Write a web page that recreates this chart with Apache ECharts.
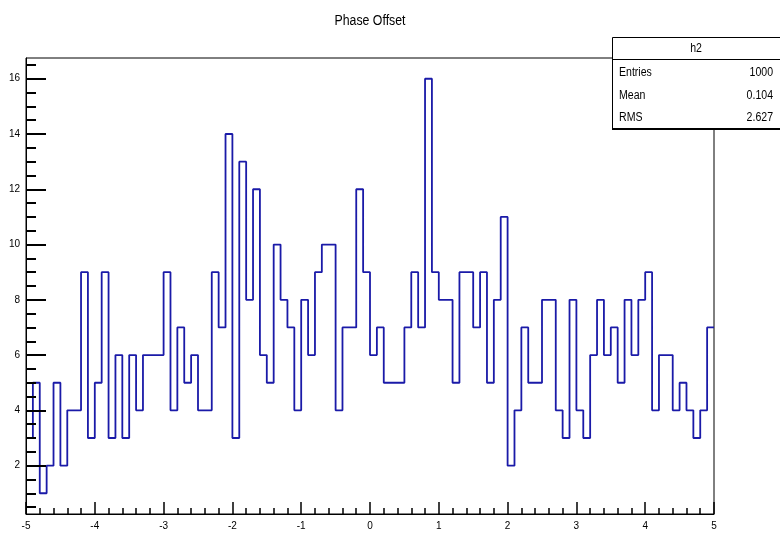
<!DOCTYPE html>
<html>
<head>
<meta charset="utf-8">
<script src="https://cdn.jsdelivr.net/npm/echarts@6/dist/echarts.min.js"></script>
<style>
  html, body { margin: 0; padding: 0; background: #ffffff; }
  #chart { width: 780px; height: 533px; }
</style>
</head>
<body>
<div id="chart"></div>
<script>
// Histogram definition: 100 bins of width 0.1 from -5 to 5
const histTitle = 'Phase Offset';
const histName = 'h2';
const binLow = -5;
const binWidth = 0.1;
const counts = [
  3, 5, 1, 2, 5, 2, 4, 4, 9, 3,
  5, 9, 3, 6, 3, 6, 4, 6, 6, 6,
  9, 4, 7, 5, 6, 4, 4, 9, 7, 14,
  3, 13, 8, 12, 6, 5, 10, 8, 7, 4,
  8, 6, 9, 10, 10, 4, 7, 7, 12, 9,
  6, 7, 5, 5, 5, 7, 9, 7, 16, 9,
  8, 8, 5, 9, 9, 7, 9, 5, 8, 11,
  2, 4, 7, 5, 5, 8, 8, 4, 3, 8,
  4, 3, 6, 8, 6, 7, 5, 8, 6, 8,
  9, 4, 6, 6, 4, 5, 4, 3, 4, 7
];

// Axis ticks
const xRange = [-5, 5];
const yRange = [0.25, 16.75];
const yMajorTicks = [2, 4, 6, 8, 10, 12, 14, 16];
const yMinorTicks = [0.5, 1, 1.5, 2.5, 3, 3.5, 4.5, 5, 5.5, 6.5, 7, 7.5, 8.5, 9, 9.5,
  10.5, 11, 11.5, 12.5, 13, 13.5, 14.5, 15, 15.5, 16.5];

// Statistics box
const statNames = ['Entries', 'Mean', 'RMS'];
const statValues = ['1000', '0.104', '2.627'];

const FONT = "'Liberation Sans Narrow', 'Liberation Sans', Arial, sans-serif";
const LINE_BLUE = '#1a1aa8';
const NARROW = 0.88;

// Step outline: one point per bin low edge, plus the upper edge of the last bin
const edge = i => Math.round((binLow + i * binWidth) * 1e6) / 1e6;
const stepData = counts.map((c, i) => [edge(i), c]);
stepData.push([edge(counts.length), counts[counts.length - 1]]);

const chart = echarts.init(document.getElementById('chart'), null, { renderer: 'canvas' });

// Stats box layout
const box = { x: 612, y: 37.5, w: 170, h: 91, header: 22 };
const rowY = [73, 96, 118];
const statGraphics = [];
statNames.forEach((name, i) => {
  statGraphics.push({
    type: 'text', z: 101,
    x: box.x + 7, y: rowY[i], scaleX: NARROW,
    style: { text: name, fill: '#000', font: '12px ' + FONT, textVerticalAlign: 'middle', textAlign: 'left' }
  });
  statGraphics.push({
    type: 'text', z: 101,
    x: 773, y: rowY[i], scaleX: NARROW,
    style: { text: statValues[i], fill: '#000', font: '12px ' + FONT, textVerticalAlign: 'middle', textAlign: 'right' }
  });
});

chart.setOption({
  animation: false,
  backgroundColor: '#ffffff',
  grid: {
    left: 26, right: 66, top: 58, bottom: 19,
    show: true, borderColor: '#000', borderWidth: 1, backgroundColor: 'transparent'
  },
  xAxis: {
    type: 'value',
    z: 3,
    min: xRange[0], max: xRange[1], interval: 1,
    axisLine: { show: true, onZero: false, lineStyle: { color: '#000', width: 1 } },
    axisTick: { show: true, inside: true, length: 12, lineStyle: { color: '#000', width: 1.5 } },
    minorTick: { show: true, splitNumber: 5, length: 6, lineStyle: { color: '#000', width: 1.5 } },
    splitLine: { show: false },
    minorSplitLine: { show: false },
    axisLabel: { color: '#000', fontSize: 10, fontFamily: FONT, margin: 7 }
  },
  yAxis: [
    {
      type: 'value',
      z: 3,
      min: yRange[0], max: yRange[1],
      position: 'left',
      axisLine: { show: true, onZero: false, lineStyle: { color: '#000', width: 1 } },
      axisTick: { show: true, inside: true, length: 20, customValues: yMajorTicks, lineStyle: { color: '#000', width: 2 } },
      splitLine: { show: false },
      axisLabel: { color: '#000', fontSize: 10, fontFamily: FONT, margin: 6, customValues: yMajorTicks }
    },
    {
      type: 'value',
      z: 3,
      min: yRange[0], max: yRange[1],
      position: 'left', offset: 0,
      axisLine: { show: false, onZero: false },
      axisTick: { show: true, inside: true, length: 10, customValues: yMinorTicks, lineStyle: { color: '#000', width: 2 } },
      splitLine: { show: false },
      axisLabel: { show: false }
    }
  ],
  series: [{
    name: histName,
    type: 'line',
    step: 'end',
    yAxisIndex: 0,
    data: stepData,
    symbol: 'none',
    clip: true,
    lineStyle: { color: LINE_BLUE, width: 1.8 },
    z: 1
  }],
  graphic: [
    {
      type: 'text', z: 100,
      x: 370, y: 21, scaleX: NARROW,
      style: { text: histTitle, fill: '#000', font: '14px ' + FONT, textAlign: 'center', textVerticalAlign: 'middle' }
    },
    {
      type: 'rect', z: 100,
      shape: { x: box.x + 0.5, y: box.y, width: box.w, height: box.h },
      style: { fill: '#fff', stroke: '#000', lineWidth: 1 }
    },
    {
      type: 'line', z: 101,
      shape: { x1: box.x, y1: box.y + box.h + 0.5, x2: 780, y2: box.y + box.h + 0.5 },
      style: { stroke: '#000', lineWidth: 2 }
    },
    {
      type: 'line', z: 101,
      shape: { x1: box.x, y1: box.y + box.header, x2: 780, y2: box.y + box.header },
      style: { stroke: '#000', lineWidth: 1 }
    },
    {
      type: 'text', z: 101,
      x: 696, y: box.y + box.header / 2, scaleX: NARROW,
      style: { text: histName, fill: '#000', font: '12px ' + FONT, textAlign: 'center', textVerticalAlign: 'middle' }
    }
  ].concat(statGraphics)
});
</script>
</body>
</html>
